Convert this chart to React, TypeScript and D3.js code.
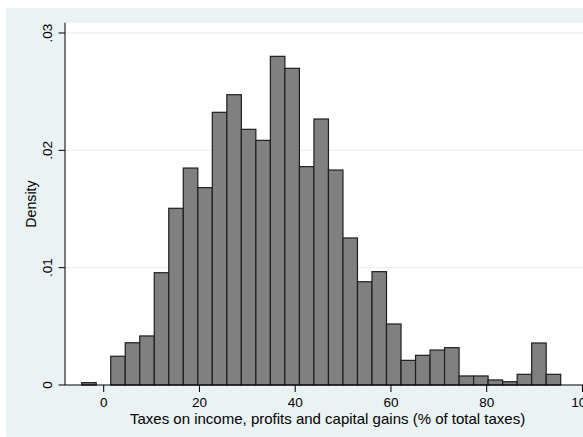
import React from "react";
import * as d3 from "d3";

// Histogram bins: start of the first bin, common bin width, and density per bin
const binStart = -4.6;
const binWidth = 3.032;
const densities = [
  0.0002, 0, 0.00245, 0.0036, 0.00418, 0.00957, 0.01506, 0.01849, 0.01682,
  0.02324, 0.02474, 0.02179, 0.02085, 0.02801, 0.02699, 0.01861, 0.02267,
  0.01832, 0.01253, 0.0088, 0.00966, 0.0052, 0.0021, 0.00253, 0.00298,
  0.00318, 0.00077, 0.00077, 0.00043, 0.00028, 0.00091, 0.00358, 0.00091,
];

const xTicks = [0, 20, 40, 60, 80, 100];
const yTicks = [0, 0.01, 0.02, 0.03];
const yTickLabels = ["0", ".01", ".02", ".03"];

const xTitle = "Taxes on income, profits and capital gains (% of total taxes)";
const yTitle = "Density";

const W = 583;
const H = 437;
const FONT = "Helvetica, Arial, 'Liberation Sans', sans-serif";

export default function App() {
  const x = d3.scaleLinear().domain([0, 100]).range([103.7, 582.45]);
  const y = d3.scaleLinear().domain([0, 0.03]).range([385, 33]);

  const plotLeft = 65;
  const plotTop = 22.7;
  const plotBottom = y(0);

  const bins = densities.map((d, i) => ({
    x0: binStart + i * binWidth,
    x1: binStart + (i + 1) * binWidth,
    d,
  }));

  return (
    <svg
      width={W}
      height={H}
      style={{ position: "absolute", left: 0, top: 0, background: "#fff" }}
      fontFamily={FONT}
    >
      {/* graph region */}
      <rect x={6} y={8} width={W - 6} height={H - 8.3} fill="#eaf2f3" />
      {/* plot region */}
      <rect
        x={plotLeft}
        y={plotTop}
        width={W - plotLeft}
        height={plotBottom - plotTop}
        fill="#ffffff"
      />
      {/* grid lines */}
      {yTicks.slice(1).map((t) => (
        <line
          key={"g" + t}
          x1={plotLeft}
          x2={W}
          y1={y(t)}
          y2={y(t)}
          stroke="#eaf2f3"
          strokeWidth={1.4}
        />
      ))}
      {/* bars */}
      {bins
        .filter((b) => b.d > 0)
        .map((b, i) => (
          <rect
            key={"b" + i}
            x={x(b.x0)}
            y={y(b.d)}
            width={x(b.x1) - x(b.x0)}
            height={plotBottom - y(b.d)}
            fill="#808080"
            stroke="#1e1e1e"
            strokeWidth={1.2}
          />
        ))}
      {/* y axis */}
      <line
        x1={plotLeft}
        x2={plotLeft}
        y1={plotTop}
        y2={plotBottom}
        stroke="#000"
        strokeWidth={1}
      />
      {yTicks.map((t, i) => (
        <g key={"yt" + t}>
          <line
            x1={plotLeft - 6.5}
            x2={plotLeft}
            y1={y(t)}
            y2={y(t)}
            stroke="#000"
            strokeWidth={1}
          />
          <text
            transform={`translate(${51.5},${y(t)}) rotate(-90)`}
            textAnchor="middle"
            fontSize={13.5}
            fill="#000"
          >
            {yTickLabels[i]}
          </text>
        </g>
      ))}
      {/* x axis */}
      <line
        x1={plotLeft}
        x2={W}
        y1={plotBottom}
        y2={plotBottom}
        stroke="#000"
        strokeWidth={1}
      />
      {xTicks.map((t) => (
        <g key={"xt" + t}>
          <line
            x1={x(t)}
            x2={x(t)}
            y1={plotBottom}
            y2={plotBottom + 7}
            stroke="#000"
            strokeWidth={1}
          />
          <text
            x={x(t)}
            y={407.3}
            textAnchor="middle"
            fontSize={13.5}
            fill="#000"
          >
            {t}
          </text>
        </g>
      ))}
      {/* axis titles */}
      <text
        x={327.6}
        y={423.5}
        textAnchor="middle"
        fontSize={15}
        fill="#000"
      >
        {xTitle}
      </text>
      <text
        transform={`translate(${36},${204}) rotate(-90)`}
        textAnchor="middle"
        fontSize={14.2}
        fill="#000"
      >
        {yTitle}
      </text>
    </svg>
  );
}
